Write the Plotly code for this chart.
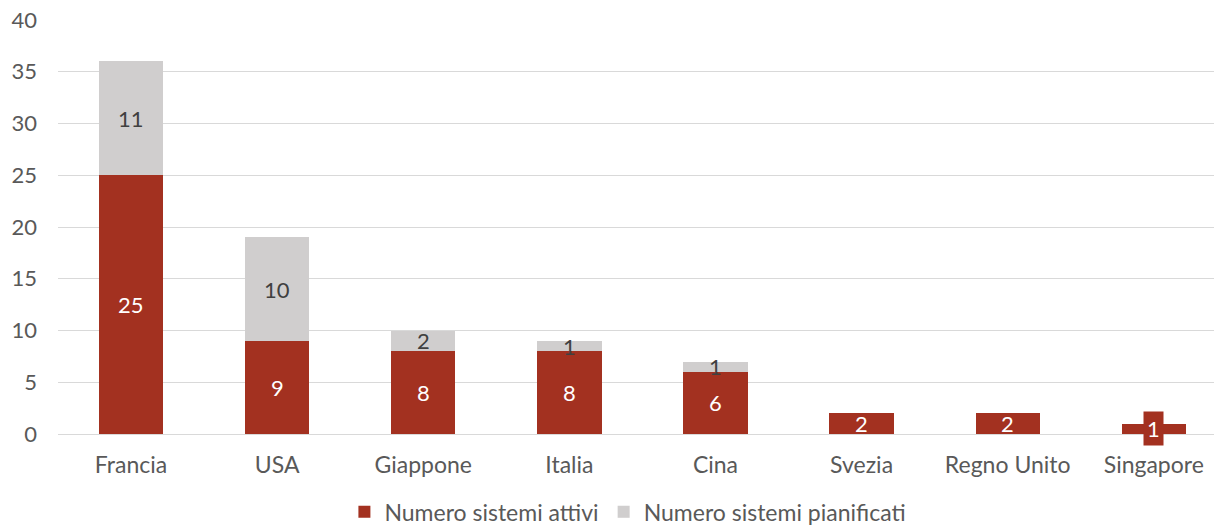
import plotly.graph_objects as go

categories = ["Francia", "USA", "Giappone", "Italia", "Cina", "Svezia", "Regno Unito", "Singapore"]
attivi = [25, 9, 8, 8, 6, 2, 2, 1]
pianificati = [11, 10, 2, 1, 1, 0, 0, 0]
y_ticks = [0, 5, 10, 15, 20, 25, 30, 35, 40]

RED = "#A33120"
GRAY = "#D0CECE"
FONT = "Lato, sans-serif"

fig = go.Figure()
fig.add_trace(go.Bar(name="Numero sistemi attivi", x=categories, y=attivi,
                     marker=dict(color=RED, line=dict(width=0)), width=0.44))
fig.add_trace(go.Bar(name="Numero sistemi pianificati", x=categories,
                     y=[p if p > 0 else None for p in pianificati],
                     marker=dict(color=GRAY, line=dict(width=0)), width=0.44))

annotations = []
for c, a, p in zip(categories, attivi, pianificati):
    annotations.append(dict(x=c, y=a / 2, text=str(a), showarrow=False,
                            font=dict(family=FONT, size=22, color="white"),
                            bgcolor=RED if a < 2 else None, borderpad=3,
                            xref="x", yref="y"))
    if p > 0:
        annotations.append(dict(x=c, y=a + p / 2, text=str(p), showarrow=False,
                                font=dict(family=FONT, size=22, color="#404040"),
                                xref="x", yref="y"))

fig.update_layout(
    barmode="stack",
    width=1214, height=528,
    margin=dict(l=58, r=0, t=20, b=94, autoexpand=False),
    plot_bgcolor="white", paper_bgcolor="white",
    font=dict(family=FONT, size=22, color="#595959"),
    showlegend=True,
    legend=dict(orientation="h", x=0.493, xanchor="center", y=-0.188, yanchor="middle",
                font=dict(family=FONT, size=23, color="#595959"), itemwidth=30,
                traceorder="normal"),
    annotations=annotations,
    xaxis=dict(range=[-0.5, 7.412], showgrid=False, showline=False, ticks="",
               tickfont=dict(family=FONT, size=23, color="#595959"), ticklabelstandoff=15),
    yaxis=dict(range=[0, 40], tickvals=y_ticks, showgrid=True, gridcolor="#D9D9D9",
               gridwidth=1.3, zeroline=True, zerolinecolor="#D9D9D9", zerolinewidth=1.3,
               tickfont=dict(family=FONT, size=22, color="#595959"), ticklabelstandoff=20),
)

fig.write_html("out.html")
